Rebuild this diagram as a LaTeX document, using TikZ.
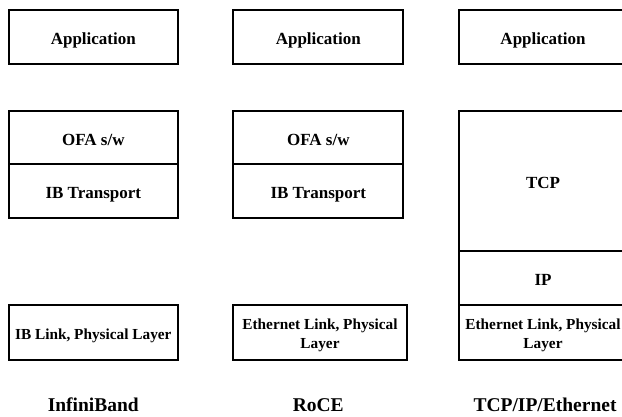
\documentclass[tikz,border=0pt]{standalone}
\usepackage{fontspec}
\setmainfont{Liberation Serif}
\begin{document}
\begin{tikzpicture}[x=1pt,y=-1pt,
  box/.style={draw=black, line width=2pt, rectangle, inner sep=0pt, align=center,
    text height=15.2pt, text depth=0pt,
    font=\bfseries\fontsize{17}{20}\selectfont},
  smallbox/.style={box, text height=31pt, text depth=0pt,
    font=\bfseries\fontsize{15.3}{18.3}\selectfont},
  onebox/.style={box, text height=13.5pt, text depth=0pt,
    font=\bfseries\fontsize{15.3}{18.3}\selectfont},
  lbl/.style={inner sep=0pt, anchor=base, font=\bfseries\fontsize{19.5}{22}\selectfont}]
\useasboundingbox (0,0) rectangle (622,416);
% Column 1: InfiniBand
\node[box, minimum width=168.7pt, minimum height=54pt] (appA) at (93.3,37) {Application};
\node[box, minimum width=168.7pt, minimum height=53.5pt] (ofaA) at (93.3,137.6) {OFA s/w};
\node[box, minimum width=168.7pt, minimum height=54pt] (ibtA) at (93.3,191.2) {IB Transport};
\node[onebox, minimum width=168.7pt, minimum height=54.5pt] (linkA) at (93.3,332.5) {IB Link, Physical Layer};
\node[lbl] (nameA) at (93.3,411) {InfiniBand};
% Column 2: RoCE
\node[box, minimum width=170pt, minimum height=54pt] (appB) at (318.3,37) {Application};
\node[box, minimum width=170pt, minimum height=53.5pt] (ofaB) at (318.3,137.6) {OFA s/w};
\node[box, minimum width=170pt, minimum height=54pt] (ibtB) at (318.3,191.2) {IB Transport};
\node[smallbox, minimum width=173.5pt, minimum height=54.5pt] (linkB) at (320,332.5) {Ethernet Link, Physical\\Layer};
\node[lbl] (nameB) at (318.3,411) {RoCE};
% Column 3: TCP/IP/Ethernet
\node[box, minimum width=168.5pt, minimum height=54pt] (appC) at (543,37) {Application};
\node[box, minimum width=168.5pt, minimum height=140.5pt] (tcpC) at (543,181) {TCP};
\node[box, minimum width=168.5pt, minimum height=54pt] (ipC) at (543,278.3) {IP};
\node[smallbox, minimum width=168.5pt, minimum height=54.5pt] (linkC) at (543,332.5) {Ethernet Link, Physical\\Layer};
\node[lbl] (nameC) at (545,411) {TCP/IP/Ethernet};
\end{tikzpicture}
\end{document}
